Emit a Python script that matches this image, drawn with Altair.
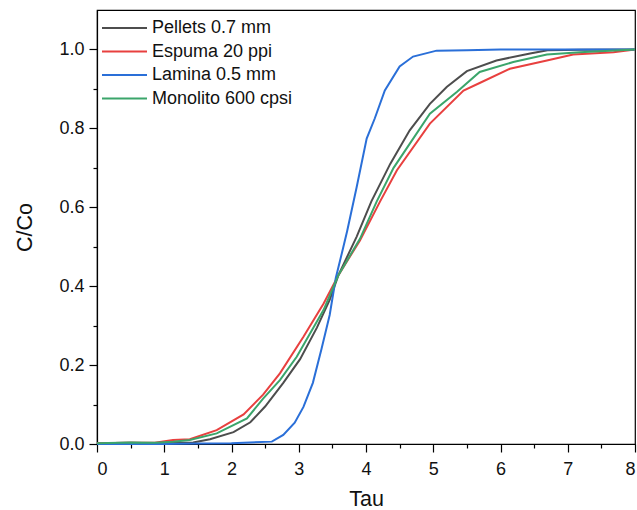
import altair as alt
import pandas as pd

series_names = ["Pellets 0.7 mm", "Espuma 20 ppi", "Lamina 0.5 mm", "Monolito 600 cpsi"]
series_colors = ["#4d4d4d", "#e8403f", "#2a6fd8", "#3ba56b"]

pellets_t = [0, 0.5, 0.85, 1.1, 1.43, 1.68, 2.03, 2.28, 2.5, 2.77, 3.02, 3.27, 3.46, 3.59, 3.86, 4.08,
             4.36, 4.65, 4.95, 5.2, 5.5, 5.94, 6.44, 6.7, 7.2, 8.0]
pellets_v = [0.002, 0.003, 0.002, 0.003, 0.004, 0.012, 0.03, 0.055, 0.095, 0.155, 0.215, 0.295, 0.365,
             0.428, 0.525, 0.615, 0.71, 0.795, 0.862, 0.905, 0.945, 0.972, 0.99, 0.998, 0.999, 1.0]

espuma_t = [0, 0.5, 0.86, 1.13, 1.38, 1.78, 2.18, 2.47, 2.72, 3.07, 3.37, 3.59, 3.91, 4.21, 4.46, 4.95,
            5.45, 5.69, 6.14, 6.69, 7.08, 7.68, 8.0]
espuma_v = [0.002, 0.003, 0.003, 0.01, 0.012, 0.035, 0.075, 0.125, 0.179, 0.272, 0.356, 0.428, 0.516,
            0.615, 0.694, 0.812, 0.896, 0.915, 0.951, 0.972, 0.987, 0.993, 1.0]

lamina_t = [0, 0.5, 1.0, 1.5, 2.0, 2.6, 2.77, 2.94, 3.07, 3.21, 3.34, 3.46, 3.55, 3.64, 3.72, 3.86,
            4.01, 4.13, 4.28, 4.5, 4.7, 5.05, 5.5, 6.0, 6.5, 7.0, 7.5, 8.0]
lamina_v = [0.0, 0.0, 0.0, 0.001, 0.002, 0.006, 0.023, 0.054, 0.094, 0.155, 0.242, 0.327, 0.42, 0.483,
            0.54, 0.65, 0.774, 0.825, 0.896, 0.957, 0.982, 0.997, 0.998, 1.0, 1.0, 1.0, 1.0, 1.0]

monolito_t = [0, 0.5, 0.86, 1.13, 1.38, 1.78, 2.23, 2.47, 2.72, 2.97, 3.37, 3.59, 3.91, 4.16, 4.41,
              4.95, 5.35, 5.69, 6.19, 6.69, 7.18, 8.0]
monolito_v = [0.002, 0.004, 0.003, 0.006, 0.01, 0.027, 0.065, 0.115, 0.162, 0.221, 0.34, 0.428, 0.52,
              0.615, 0.70, 0.837, 0.892, 0.943, 0.968, 0.987, 0.993, 1.0]

x_major = [0, 1, 2, 3, 4, 5, 6, 7, 8]
x_minor = [0.5, 1.5, 2.5, 3.5, 4.5, 5.5, 6.5, 7.5]
y_major = [0.0, 0.2, 0.4, 0.6, 0.8, 1.0]
y_minor = [0.1, 0.3, 0.5, 0.7, 0.9]

rows = []
for name, ts, vs in zip(series_names,
                        [pellets_t, espuma_t, lamina_t, monolito_t],
                        [pellets_v, espuma_v, lamina_v, monolito_v]):
    for t, v in zip(ts, vs):
        rows.append({"series": name, "t": t, "v": v})
df = pd.DataFrame(rows)

FONT = "Liberation Sans"
xscale = alt.Scale(domain=[0, 8], nice=False, zero=False)
yscale = alt.Scale(domain=[0, 1.1], nice=False, zero=False)

lines = alt.Chart(df).mark_line(strokeWidth=2).encode(
    x=alt.X("t:Q", scale=xscale,
            axis=alt.Axis(values=x_major, format="d", title="Tau", orient="bottom",
                          tickSize=8, labelPadding=8, titlePadding=10, grid=False)),
    y=alt.Y("v:Q", scale=yscale,
            axis=alt.Axis(values=y_major, format=".1f", title="C/Co", orient="left",
                          tickSize=8, labelPadding=5, titlePadding=22, grid=False)),
    color=alt.Color("series:N",
                    scale=alt.Scale(domain=series_names, range=series_colors),
                    legend=alt.Legend(title=None, orient="none", legendX=4, legendY=9,
                                      symbolType="stroke", symbolSize=2025,
                                      symbolStrokeWidth=2, labelFontSize=18,
                                      labelFont=FONT, labelColor="#111111",
                                      labelOffset=4, rowPadding=5.5, padding=0,
                                      clipHeight=18)),
    detail="series:N",
)

minor = alt.Chart(df).mark_point(opacity=0).encode(
    x=alt.X("t:Q", scale=xscale,
            axis=alt.Axis(values=x_minor, labels=False, title=None, orient="bottom",
                          tickSize=4, domain=False, grid=False)),
    y=alt.Y("v:Q", scale=yscale,
            axis=alt.Axis(values=y_minor, labels=False, title=None, orient="left",
                          tickSize=4, domain=False, grid=False)),
)

chart = alt.layer(minor, lines).resolve_axis(x="independent", y="independent").properties(
    width=538, height=434,
    background="white",
    autosize=alt.AutoSizeParams(type="none"),
    padding={"left": 97, "top": 10, "right": 2, "bottom": 66},
).configure_view(stroke="#000000", strokeWidth=1.2).configure_axis(
    domainColor="#000000", tickColor="#000000", domainWidth=1.2, tickWidth=1.2,
    labelFont=FONT, titleFont=FONT, labelFontSize=18, titleFontSize=21.5,
    labelColor="#111111", titleColor="#111111", titleFontWeight="normal",
)

chart.save("out.html", embed_options={"renderer": "svg", "actions": False})
